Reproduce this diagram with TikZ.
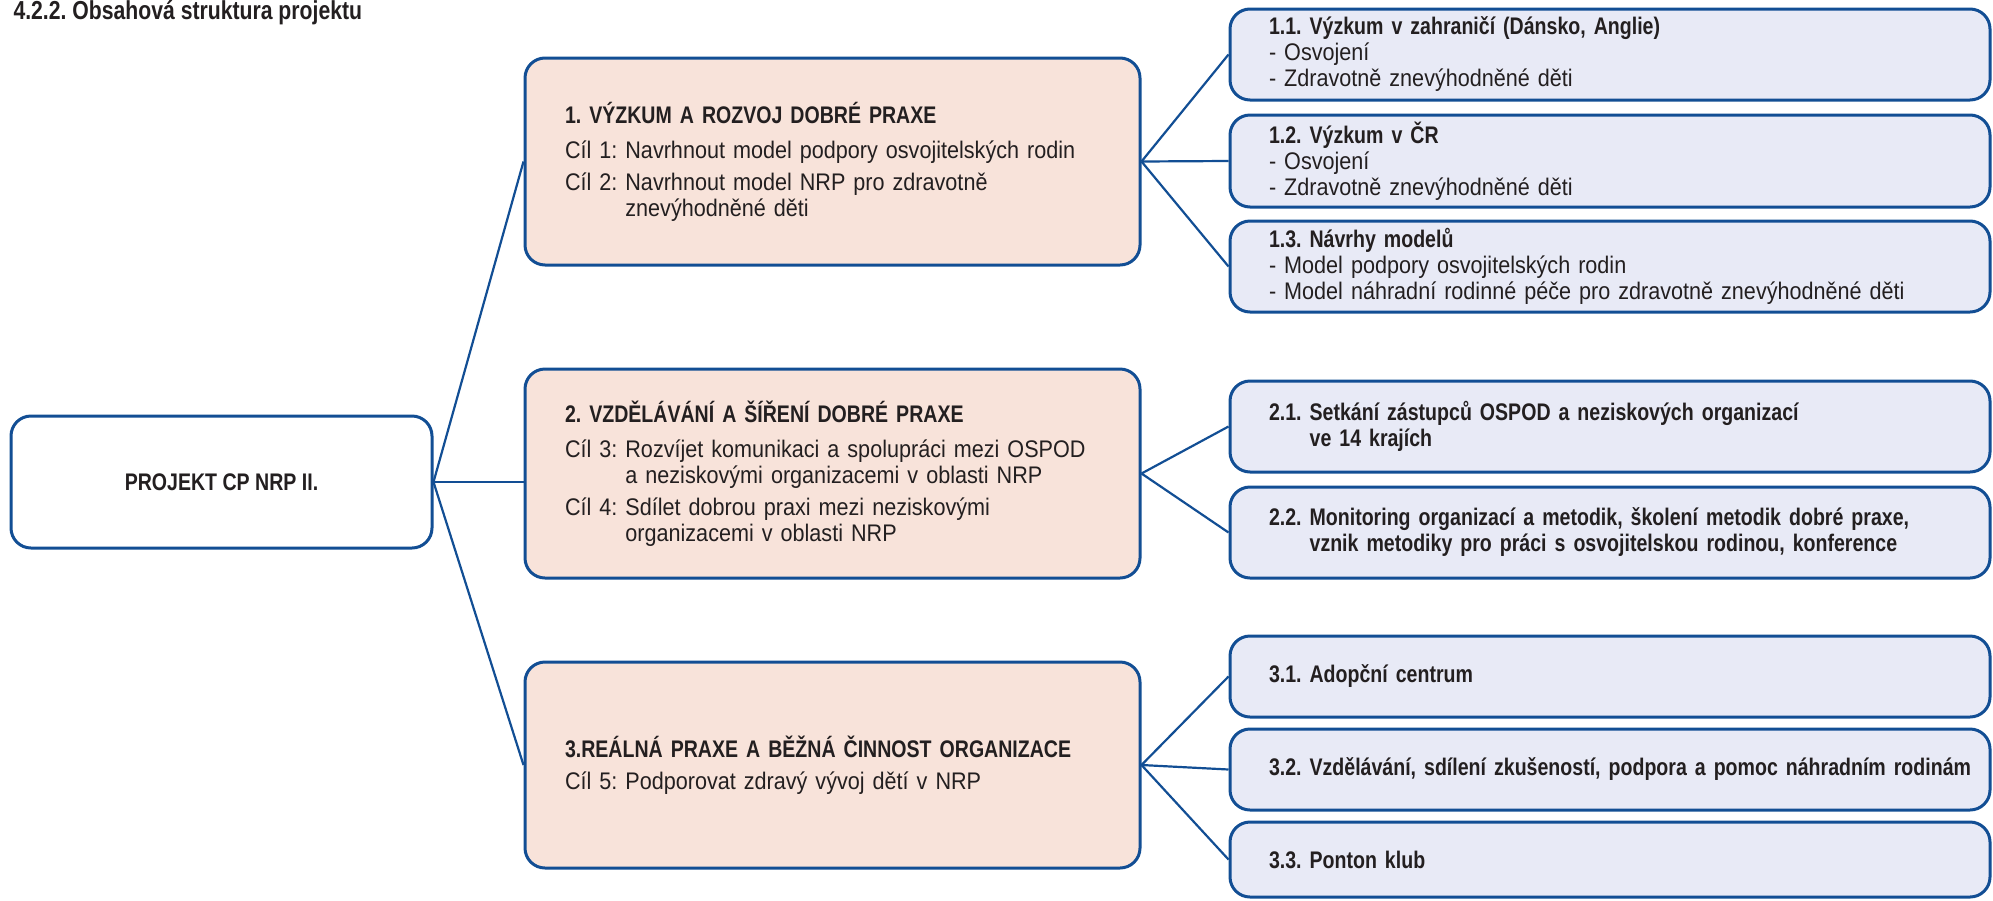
\documentclass[tikz,border=0pt]{standalone}
\usepackage{fontspec}
\setmainfont{Liberation Sans}[FakeStretch=0.90,BoldFeatures={FakeStretch=0.815}]
\usetikzlibrary{positioning}
\frenchspacing
\hyphenpenalty=10000
\exhyphenpenalty=10000

\definecolor{nrpmodra}{RGB}{18,78,148}
\definecolor{nrpruzova}{RGB}{248,227,218}
\definecolor{nrpfialova}{RGB}{232,234,246}
\definecolor{nrptext}{RGB}{35,31,32}

\tikzset{
	ramec/.style={draw=nrpmodra, line width=3pt, rounded corners=20pt, text=nrptext, inner sep=0pt},
	projekt/.style={ramec, fill=white, minimum width=421pt, minimum height=132pt, font=\fontsize{24}{28}\selectfont\bfseries},
	cil/.style={ramec, fill=nrpruzova, minimum width=615pt, text width=535pt, align=left, font=\fontsize{24}{26}\selectfont},
	ukol/.style={ramec, fill=nrpfialova, minimum width=760pt, text width=682pt, align=left, font=\fontsize{24}{26}\selectfont},
	spoj/.style={draw=nrpmodra, line width=2.2pt}
}

\begin{document}
\begin{tikzpicture}[x=1pt, y=-1pt]
		\useasboundingbox (0,0) rectangle (1993,900);
		\node[anchor=base west, text=nrptext, font=\fontsize{26}{30}\selectfont\bfseries] (nadpis) at (10,19) {4.2.2. Obsahová struktura projektu};
		\node[projekt] (proj) at (221.5,482) {PROJEKT CP NRP II.};
		\node[cil, minimum height=207pt] (vyzkum) at (832.5,161.5) {\textbf{1. VÝZKUM A ROZVOJ DOBRÉ PRAXE}\\[9pt]
			Cíl 1: Navrhnout model podpory osvojitelských rodin\\[6pt]
			Cíl 2: Navrhnout model NRP pro zdravotně\\ \phantom{Cíl 2: }znevýhodněné děti};
		\node[cil, minimum height=209pt] (vzdel) at (832.5,473.5) {\textbf{2. VZDĚLÁVÁNÍ A ŠÍŘENÍ DOBRÉ PRAXE}\\[9pt]
			Cíl 3: Rozvíjet komunikaci a spolupráci mezi OSPOD\\ \phantom{Cíl 3: }a neziskovými organizacemi v oblasti NRP\\[6pt]
			Cíl 4: Sdílet dobrou praxi mezi neziskovými\\ \phantom{Cíl 4: }organizacemi v oblasti NRP};
		\node[cil, minimum height=206pt] (praxe) at (832.5,765) {\textbf{3.REÁLNÁ PRAXE A BĚŽNÁ ČINNOST ORGANIZACE}\\[6pt]
			Cíl 5: Podporovat zdravý vývoj dětí v NRP};
		\node[ukol, minimum height=91pt] (v11) at (1610,54.5) {\textbf{1.1. Výzkum v zahraničí (Dánsko, Anglie)}\\ - Osvojení\\ - Zdravotně znevýhodněné děti};
		\node[ukol, minimum height=92pt] (v12) at (1610,161) {\textbf{1.2. Výzkum v ČR}\\ - Osvojení\\ - Zdravotně znevýhodněné děti};
		\node[ukol, minimum height=91pt] (v13) at (1610,266.5) {\textbf{1.3. Návrhy modelů}\\ - Model podpory osvojitelských rodin\\ - Model náhradní rodinné péče pro zdravotně znevýhodněné děti};
		\node[ukol, minimum height=91pt, font=\fontsize{24}{26}\selectfont\bfseries] (v21) at (1610,426.5) {2.1. Setkání zástupců OSPOD a neziskových organizací\\ \phantom{2.1. }ve 14 krajích};
		\node[ukol, minimum height=91pt, font=\fontsize{24}{26}\selectfont\bfseries] (v22) at (1610,532.5) {2.2. Monitoring organizací a metodik, školení metodik dobré praxe,\\ \phantom{2.2. }vznik metodiky pro práci s osvojitelskou rodinou, konference};
		\node[ukol, minimum height=81pt, font=\fontsize{24}{26}\selectfont\bfseries] (v31) at (1610,676.5) {3.1. Adopční centrum};
		\node[ukol, minimum height=81pt, font=\fontsize{24}{26}\selectfont\bfseries] (v32) at (1610,769.5) {\mbox{3.2. Vzdělávání, sdílení zkušeností, podpora a pomoc náhradním rodinám}};
		\node[ukol, minimum height=75pt, font=\fontsize{24}{26}\selectfont\bfseries] (v33) at (1610,859.5) {3.3. Ponton klub};
		\draw[spoj] (proj.east) -- (vyzkum.west);
		\draw[spoj] (proj.east) -- (proj.east -| vzdel.west);
		\draw[spoj] (proj.east) -- (praxe.west);
		\foreach \v in {v11,v12,v13}
			\draw[spoj] (vyzkum.east) -- (\v.west);
		\foreach \v in {v21,v22}
			\draw[spoj] (vzdel.east) -- (\v.west);
		\foreach \v in {v31,v32,v33}
			\draw[spoj] (praxe.east) -- (\v.west);
\end{tikzpicture}
\end{document}
